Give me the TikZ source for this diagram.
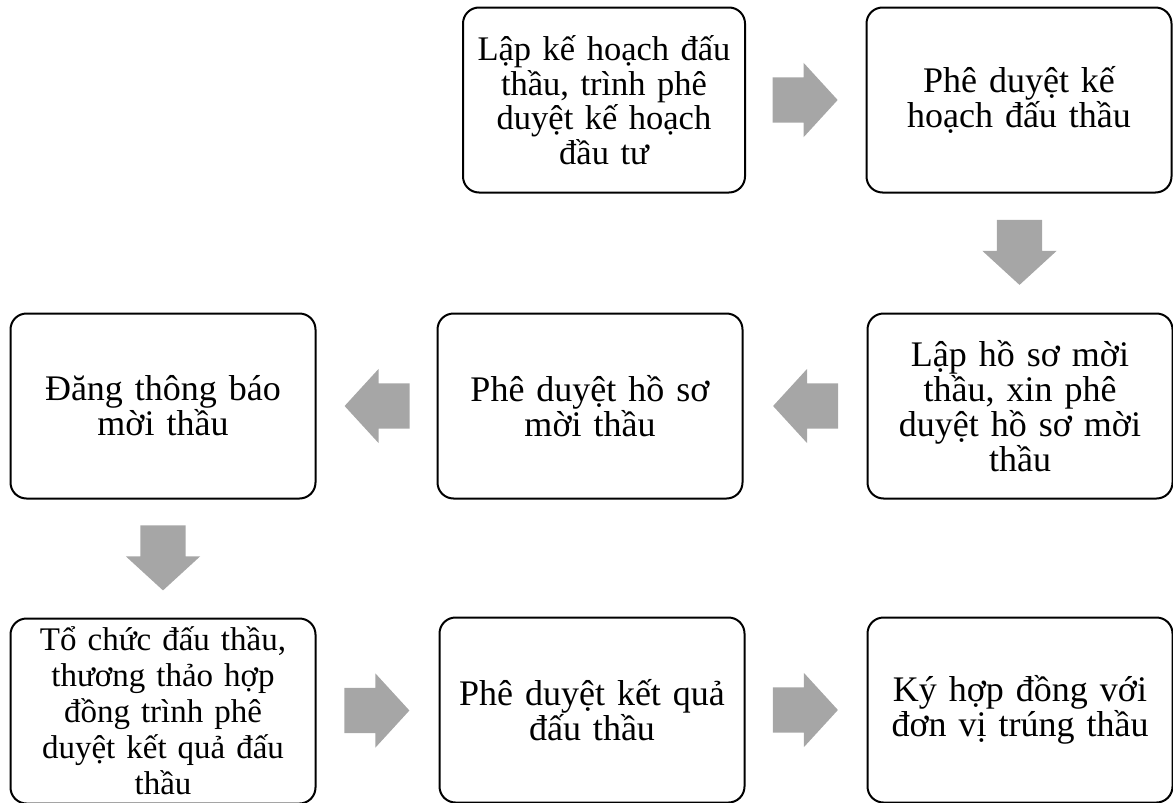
\documentclass[tikz,border=0pt]{standalone}
\usepackage{fontspec}
\setmainfont{Liberation Serif}
\usepackage{xcolor}
\usepackage{tikz}
\usetikzlibrary{arrows.meta,positioning,calc,shapes.arrows}

\definecolor{arrowgray}{HTML}{A6A6A6}
\lineskiplimit=-40pt

\begin{document}
\begin{tikzpicture}[x=1pt,y=-1pt,
    stepbox/.style={draw,line width=2pt,rounded corners=16pt,align=center,
      font=\fontsize{36}{35}\selectfont,
      minimum width=305pt,minimum height=185pt,text width=300pt,inner sep=0pt},
    blockarrow/.style={single arrow,fill=arrowgray,draw=none,
      inner xsep=0pt,inner ysep=22.5pt,minimum height=65pt,
      single arrow head extend=14.5pt,
      single arrow tip angle=95,single arrow head indent=0pt}]
  \useasboundingbox (0,0) rectangle (1173,803);
  % top row
  \node[stepbox,minimum width=282pt,text width=278pt,
    font=\fontsize{34.5}{34.5}\selectfont] (plan) at (604,100)
    {Lập kế hoạch đấu\\ thầu, trình phê\\ duyệt kế hoạch\\ đầu tư\hspace*{1.2em}};
  \node[stepbox] (planok) at (1019,100) {Phê duyệt kế\\ hoạch đấu thầu};
  % middle row
  \node[stepbox] (announce) at (163,406) {Đăng thông báo\\ mời thầu};
  \node[stepbox] (docsok) at (590,406) {Phê duyệt hồ sơ\\ mời thầu};
  \node[stepbox] (docs) at (1020,406)
    {Lập hồ sơ mời\\ thầu, xin phê\\ duyệt hồ sơ mời\\ thầu};
  % bottom row
  \node[stepbox,font=\fontsize{33}{36}\selectfont] (organise) at (163,711)
    {Tổ chức đấu thầu,\\ thương thảo hợp\\ đồng trình phê\\ duyệt kết quả đấu\\ thầu};
  \node[stepbox] (resultok) at (592,710) {Phê duyệt kết quả\\ đấu thầu};
  \node[stepbox] (contract) at (1020,710) {Ký hợp đồng với\\ đơn vị trúng thầu};

  % block arrows between the steps (shape centre sits 11pt behind the node centre)
  \node[blockarrow] (a1) at ($(plan.east)!0.5!(planok.west)+(-11,0)$) {};
  \node[blockarrow,rotate=-90] (a2) at ($(planok.south)!0.5!(docs.north)+(0,-11)$) {};
  \node[blockarrow,rotate=180] (a3) at ($(docsok.east)!0.5!(docs.west)+(11,0)$) {};
  \node[blockarrow,rotate=180] (a4) at ($(announce.east)!0.5!(docsok.west)+(11,0)$) {};
  \node[blockarrow,rotate=-90] (a5) at ($(announce.south)!0.5!(organise.north)+(0,-11)$) {};
  \node[blockarrow] (a6) at ($(organise.east)!0.5!(resultok.west)+(-11,0)$) {};
  \node[blockarrow] (a7) at ($(resultok.east)!0.5!(contract.west)+(-11,0)$) {};
\end{tikzpicture}
\end{document}
